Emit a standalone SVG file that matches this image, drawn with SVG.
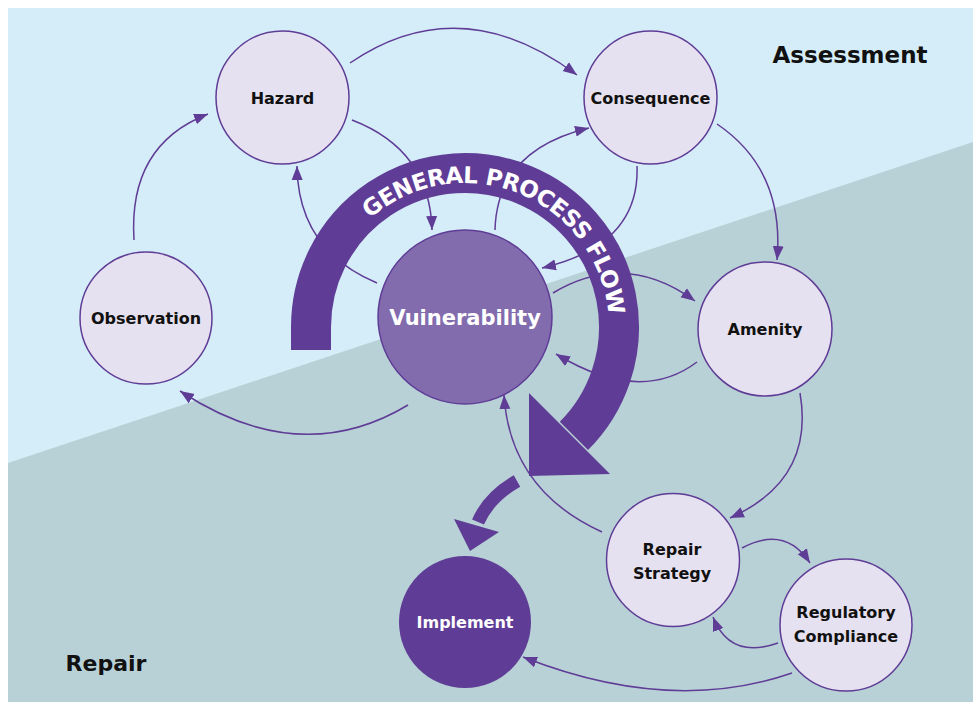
<svg xmlns="http://www.w3.org/2000/svg" width="973" height="702" viewBox="0 0 973 702">
<style>
.n circle{fill:#e6e1f0;stroke:#5f3c96;stroke-width:1.5}
.lbl{font-family:"DejaVu Sans",sans-serif;font-weight:bold;font-size:16px;text-anchor:middle;fill:#111}
.c path{fill:none;stroke:#5f3c96;stroke-width:1.5;marker-end:url(#ah)}
.big{font-family:"DejaVu Sans",sans-serif;font-weight:bold;fill:#111}
</style>
<defs>
<marker id="ah" markerUnits="userSpaceOnUse" markerWidth="15" markerHeight="12" refX="14" refY="6" orient="auto">
<path d="M0,0.5 L14,6 L0,11.5 z" fill="#5f3c96"/>
</marker>
<path id="tp" d="M363.2,225.2 A144,144 0 0 1 609,327"/>
</defs>
<rect x="8" y="8" width="965" height="694" fill="#d5edf8"/>
<polygon points="8,463 973,142 973,702 8,702" fill="#b8d1d6"/>
<text class="big" x="850" y="63" font-size="23" text-anchor="middle">Assessment</text>
<text class="big" x="106" y="671" font-size="22" text-anchor="middle">Repair</text>

<g class="c" id="connectors">
<path d="M350,63 Q460,-12 577,75"/>
<path d="M352,120 Q430,150 432,230"/>
<path d="M377,283 Q298,250 297,166"/>
<path d="M495,230 Q497,150 589,128"/>
<path d="M637,166 Q640,245 542,268"/>
<path d="M717,124 Q785,170 777,260"/>
<path d="M553,293 Q625,250 695,301"/>
<path d="M697,362 Q640,405 556,354"/>
<path d="M800,393 Q815,480 730,518"/>
<path d="M408,405 Q300,470 180,391"/>
<path d="M134,240 Q128,145 208,114"/>
<path d="M602,532 Q510,490 504,395"/>
<path d="M742,548 Q785,525 810,563"/>
<path d="M778,643 Q730,660 713,617"/>
<path d="M792,673 Q670,715 523,657"/>
</g>

<g id="flow">
<path d="M311,350 L311,327 A154,154 0 1 1 573.9,435.9" fill="none" stroke="#5f3c96" stroke-width="40"/>
<polygon points="529,393 610,474 529,476" fill="#5f3c96"/>
<text font-family="DejaVu Sans,sans-serif" font-weight="bold" font-size="23" fill="#fff" letter-spacing="-0.6"><textPath href="#tp" startOffset="168" text-anchor="middle">GENERAL PROCESS FLOW</textPath></text>
<path d="M517,481 Q489,497 478,522" fill="none" stroke="#5f3c96" stroke-width="13"/>
<polygon points="454,519 499,532 470,551" fill="#5f3c96"/>
</g>

<g class="n" id="hazard"><circle cx="282.5" cy="97.5" r="66.5"/><text class="lbl" x="282.5" y="104">Hazard</text></g>
<g class="n" id="consequence"><circle cx="650.5" cy="97.5" r="66.5"/><text class="lbl" x="650.5" y="104">Consequence</text></g>
<g class="n" id="observation"><circle cx="146" cy="318" r="66"/><text class="lbl" x="146" y="324">Observation</text></g>
<g class="n" id="amenity"><circle cx="765" cy="329" r="67"/><text class="lbl" x="765" y="335">Amenity</text></g>
<g class="n" id="repair-strategy"><circle cx="673" cy="560" r="66.5"/><text class="lbl" x="672" y="555">Repair</text><text class="lbl" x="672" y="579">Strategy</text></g>
<g class="n" id="regulatory-compliance"><circle cx="846" cy="625" r="66"/><text class="lbl" x="846" y="618">Regulatory</text><text class="lbl" x="846" y="642">Compliance</text></g>
<g id="vulnerability"><circle cx="465" cy="317" r="87" fill="#826cae" stroke="#5f3c96" stroke-width="1.5"/><text class="lbl" x="465" y="325" style="fill:#fff;font-size:21px">Vuinerability</text></g>
<g id="implement"><circle cx="465" cy="622" r="66" fill="#5f3c96"/><text class="lbl" x="465" y="628" style="fill:#fff">Implement</text></g>
</svg>
